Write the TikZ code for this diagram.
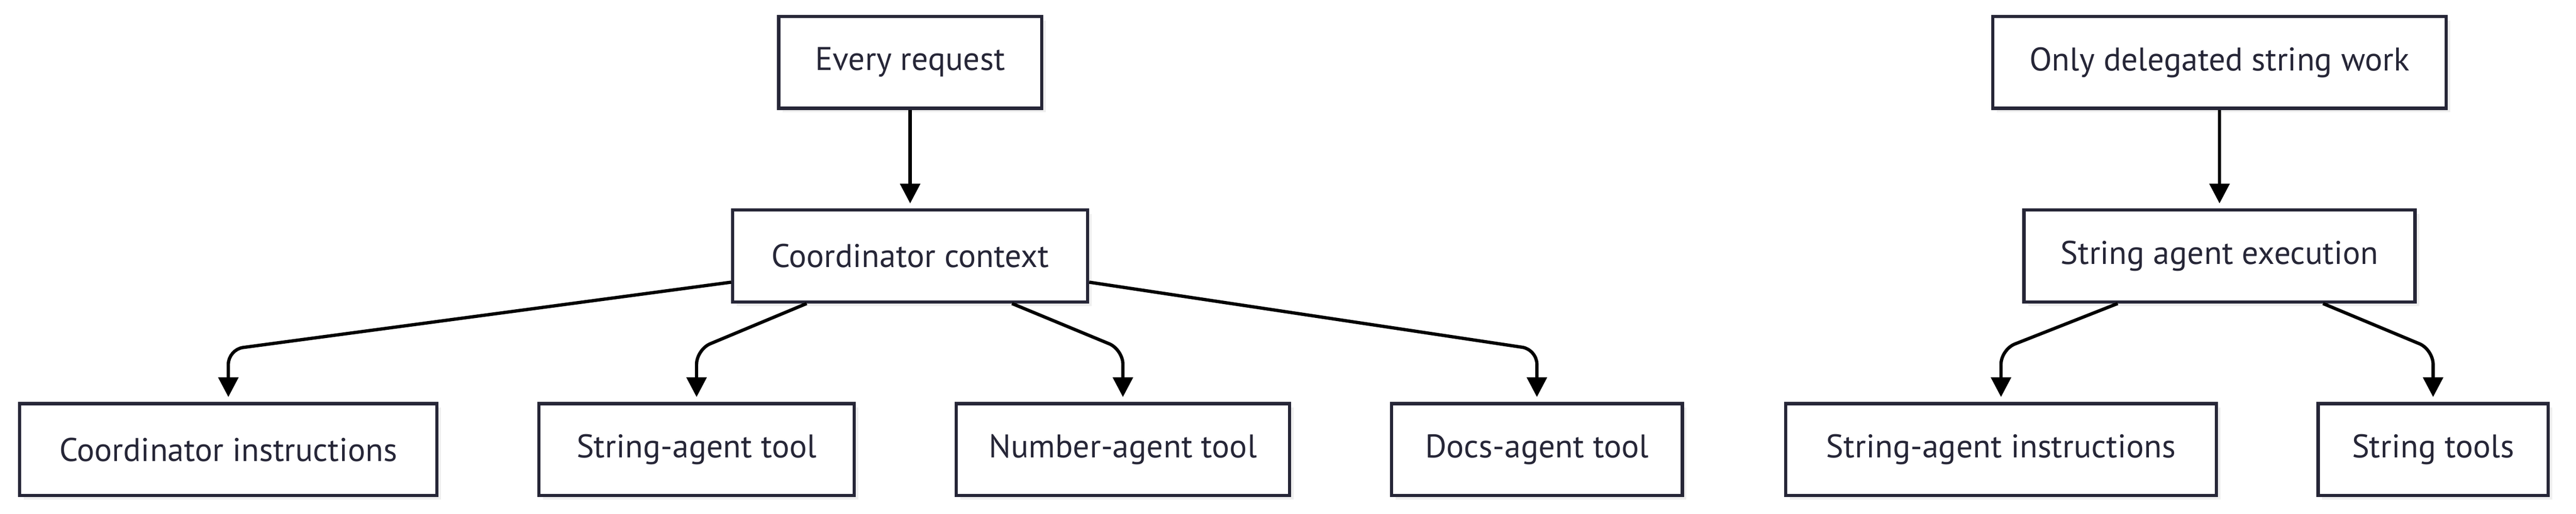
\documentclass[tikz,border=0pt]{standalone}
\usepackage{fontspec}
\setmainfont{PT Sans}
\usepackage{tikz}
\usetikzlibrary{arrows.meta,shadows}
\definecolor{ink}{HTML}{262637}
\definecolor{shade}{HTML}{EFEFEF}
\tikzstyle{box}=[draw=ink, line width=2pt, fill=white, text=ink, minimum height=56pt, inner sep=0pt,
  font=\fontsize{20}{24}\selectfont, drop shadow={shadow xshift=2.5pt, shadow yshift=-2.5pt, fill=shade, opacity=1}]
\tikzstyle{link}=[draw=black, line width=2pt, rounded corners=9pt, -{Triangle[length=12pt,width=12pt]}, shorten >=3pt]
\begin{document}
\begin{tikzpicture}[x=1pt, y=-1pt]
		\useasboundingbox (0,0) rectangle (1568,313);
		% First we draw the boxes
		\foreach \pos/\label/\w/\name in {
			{(554,38)/every/160/Every request}, {(554,156)/coord/216/Coordinator context},
			{(139,274)/cinstr/254/Coordinator instructions}, {(424,274)/stool/192/String-agent tool},
			{(683.5,274)/ntool/203/Number-agent tool}, {(935.5,274)/dtool/177/Docs-agent tool},
			{(1351,38)/only/276/Only delegated string work}, {(1351,156)/sexec/238/String agent execution},
			{(1218,274)/sinstr/262/String-agent instructions}, {(1481,274)/stools/140/String tools}}
		\node[box, minimum width=\w pt] (\label) at \pos {\name};
		
		% Connect boxes
		\path[link] (every) -- (coord);
		\path[link] (only) -- (sexec);
		\path[link] ([yshift=-16pt]coord.west) -- ([yshift=32pt]cinstr.north) -- (cinstr.north);
		\path[link] ([xshift=46pt]coord.south west) -- ([yshift=32pt]stool.north) -- (stool.north);
		\path[link] ([xshift=-47pt]coord.south east) -- ([yshift=32pt]ntool.north) -- (ntool.north);
		\path[link] ([yshift=-16pt]coord.east) -- ([yshift=32pt]dtool.north) -- (dtool.north);
		\path[link] ([xshift=58pt]sexec.south west) -- ([yshift=32pt]sinstr.north) -- (sinstr.north);
		\path[link] ([xshift=-57pt]sexec.south east) -- ([yshift=32pt]stools.north) -- (stools.north);
\end{tikzpicture}
\end{document}
